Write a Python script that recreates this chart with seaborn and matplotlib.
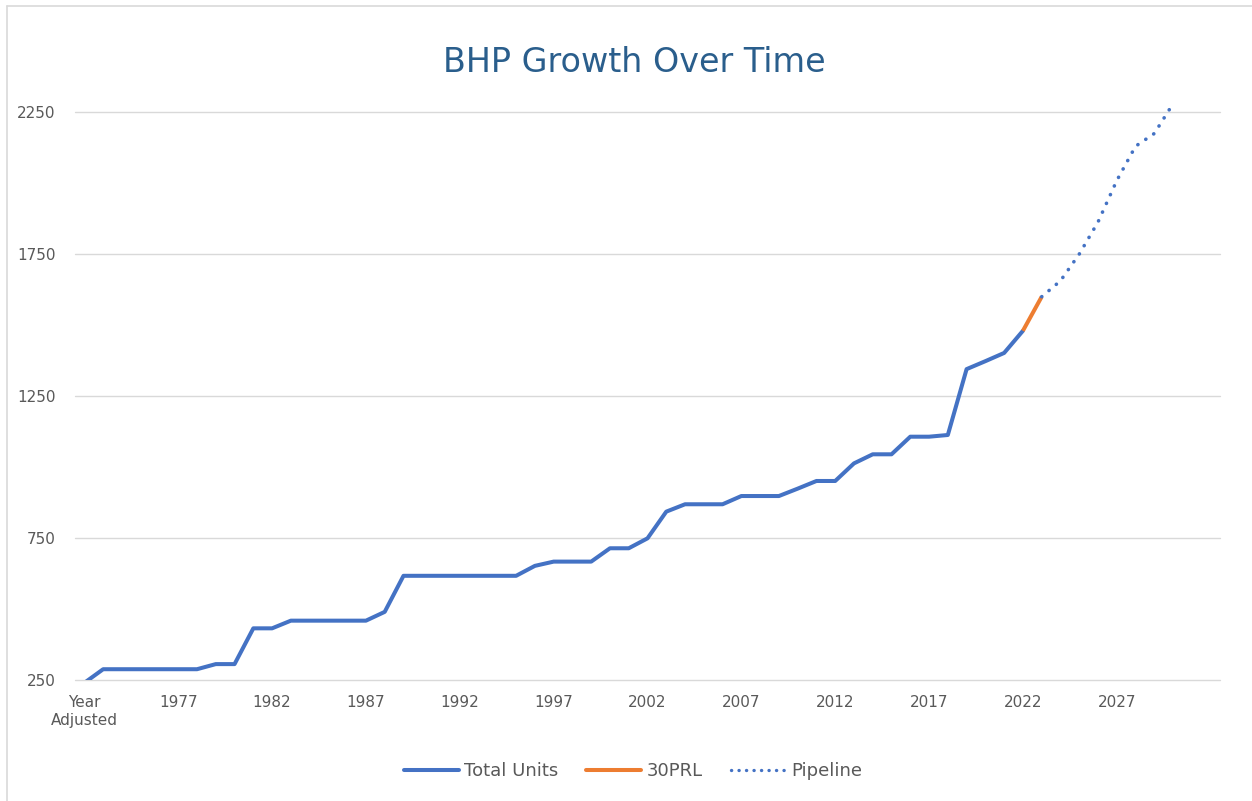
import matplotlib
matplotlib.use("Agg")
import matplotlib.pyplot as plt
from matplotlib.lines import Line2D
import numpy as np
import pandas as pd
import seaborn as sns

# Category axis: first slot is the adjusted baseline, then one slot per year
first_year = 1973
last_year = 2032
categories = ["Year\nAdjusted"] + [str(y) for y in range(first_year, last_year + 1)]

# Total units built, one value per category (baseline through 2022)
total_units = [240, 288, 288, 288, 288, 288, 288, 306, 306, 432,
               432, 459, 459, 459, 459, 459, 490, 617, 617, 617,
               617, 617, 617, 617, 652, 667, 667, 667, 714, 714,
               749, 843, 869, 869, 869, 898, 898, 898, 924, 951,
               951, 1013, 1045, 1045, 1107, 1107, 1113, 1345, 1373, 1402,
               1480]

# 30PRL addition (2022 -> 2023)
prl_start = 50
prl_units = [1480, 1600]

# Pipeline projection (2023 -> 2030)
pipeline_start = 51
pipeline_units = [1600, 1656, 1750, 1863, 2009, 2130, 2175, 2280]

y_ticks = [250, 750, 1250, 1750, 2250]

BLUE = "#4472C4"
ORANGE = "#ED7D31"
GRID = "#D9D9D9"
TEXT = "#595959"
TITLE = "#2A5E8C"
DOTS = (0, (0.05, 2.6))

sns.set_theme(style="white")
plt.rcParams["font.family"] = ["DejaVu Sans"]

df_total = pd.DataFrame({"pos": np.arange(len(total_units)), "units": total_units})
df_prl = pd.DataFrame({"pos": prl_start + np.arange(len(prl_units)), "units": prl_units})
df_pipe = pd.DataFrame({"pos": pipeline_start + np.arange(len(pipeline_units)),
                        "units": pipeline_units})

fig = plt.figure(figsize=(12.52, 8.01), dpi=100)
ax = fig.add_axes([75 / 1252, 121 / 801, 1145 / 1252, 582 / 801])

sns.lineplot(data=df_total, x="pos", y="units", ax=ax, color=BLUE,
             linewidth=2.9, label="Total Units", solid_joinstyle="round")
sns.lineplot(data=df_prl, x="pos", y="units", ax=ax, color=ORANGE,
             linewidth=2.9, label="30PRL", solid_capstyle="butt")
sns.lineplot(data=df_pipe, x="pos", y="units", ax=ax, color=BLUE,
             linewidth=2.6, label="Pipeline",
             linestyle=DOTS, dash_capstyle="round")

ax.set_xlim(-0.5, len(categories) - 0.5)
ax.set_ylim(250, 2300)

tick_pos = list(range(0, len(categories) - 5, 5))
ax.set_xticks(tick_pos)
ax.set_xticklabels([categories[i] for i in tick_pos])
ax.set_yticks(y_ticks)
ax.set_yticklabels([str(v) for v in y_ticks])

ax.tick_params(axis="x", length=0, pad=11, labelsize=11, labelcolor=TEXT)
ax.tick_params(axis="y", length=0, pad=14, labelsize=11, labelcolor=TEXT)
for lbl in ax.get_yticklabels():
    lbl.set_horizontalalignment("right")

ax.yaxis.grid(True, color=GRID, linewidth=1.0)
ax.xaxis.grid(False)
for gl in ax.get_ygridlines():
    gl.set_clip_on(False)
ax.set_axisbelow(True)
for side in ["top", "right", "left", "bottom"]:
    ax.spines[side].set_visible(False)

ax.set_xlabel("")
ax.set_ylabel("")
ax.get_legend().remove()

fig.text(634 / 1252, 1 - 62 / 801, "BHP Growth Over Time", ha="center",
         va="center", fontsize=24, color=TITLE)

handles = [
    Line2D([], [], color=BLUE, linewidth=2.9),
    Line2D([], [], color=ORANGE, linewidth=2.9),
    Line2D([], [], color=BLUE, linewidth=2.4, linestyle=(0, (0.05, 2.2)),
           dash_capstyle="round"),
]
fig.legend(handles, ["Total Units", "30PRL", "Pipeline"], loc="center",
           bbox_to_anchor=(633 / 1252, 1 - 771 / 801), ncol=3, frameon=False,
           fontsize=13, labelcolor=TEXT, handlelength=3.05, handletextpad=0.3,
           columnspacing=1.55)

# Chart-area border (left and top edges)
fig.add_artist(Line2D([6.5 / 1252, 6.5 / 1252], [0, 1 - 5.5 / 801],
                      color=GRID, linewidth=1.2, transform=fig.transFigure))
fig.add_artist(Line2D([6.5 / 1252, 1], [1 - 5.5 / 801, 1 - 5.5 / 801],
                      color=GRID, linewidth=1.2, transform=fig.transFigure))

fig.savefig("out.png", dpi=100, facecolor="white")
